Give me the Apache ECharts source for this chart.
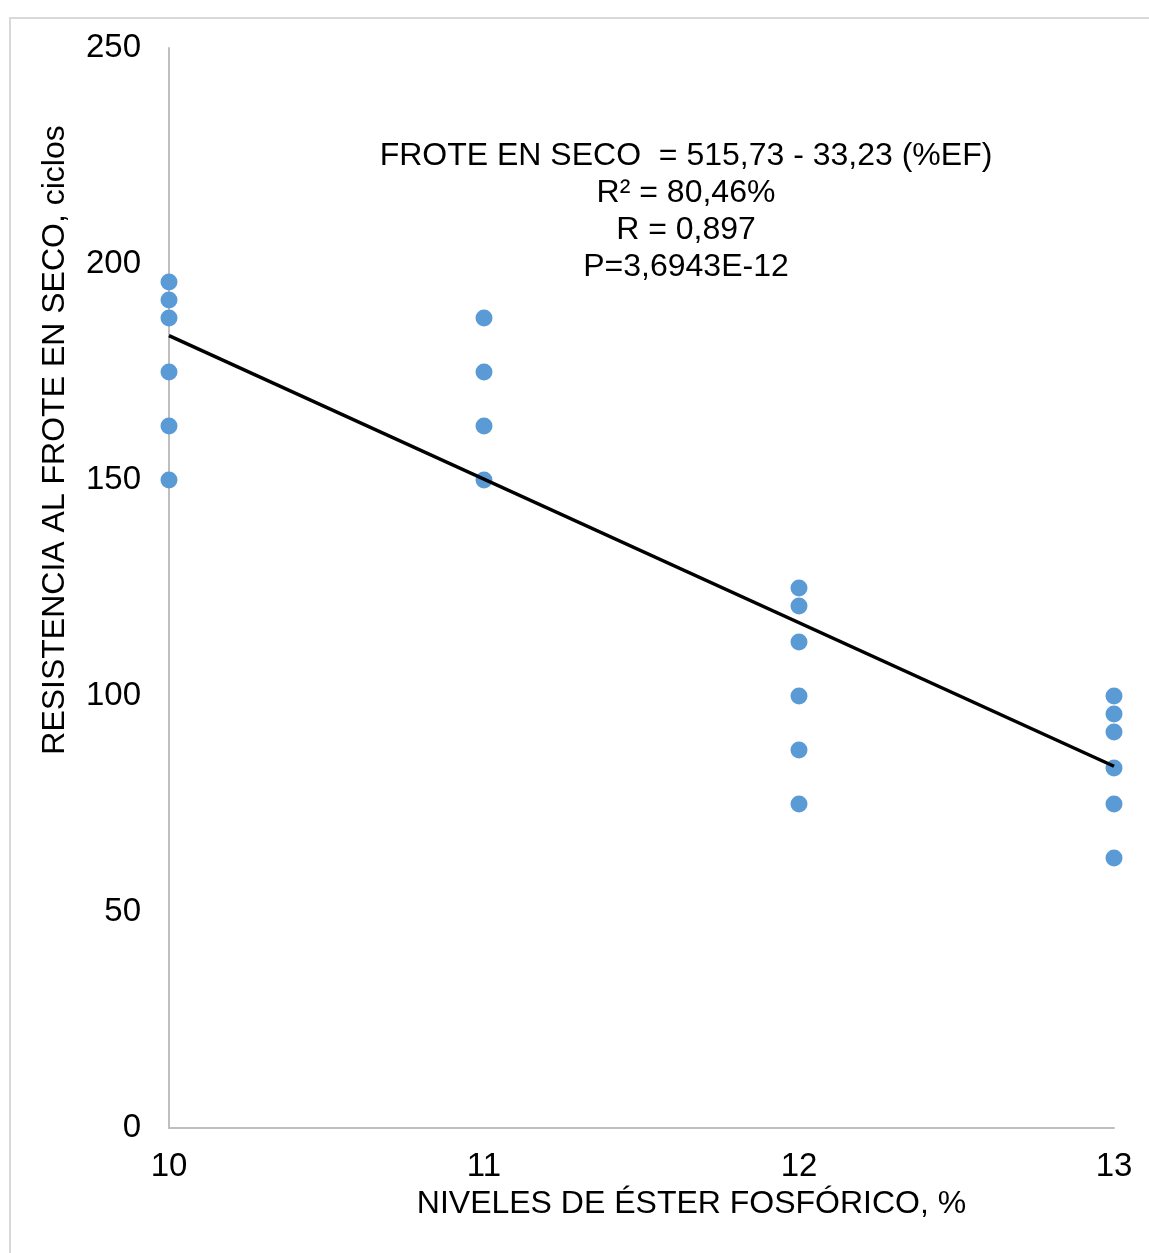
<!DOCTYPE html>
<html>
<head>
<meta charset="utf-8">
<script src="https://cdn.jsdelivr.net/npm/echarts@6/dist/echarts.min.js"></script>
<style>
  html, body { margin: 0; padding: 0; background: #ffffff; }
  #frame { position: absolute; left: 9px; top: 17px; width: 1160px; height: 1260px;
           border: 2px solid #d9d9d9; box-sizing: border-box; }
  #chart { position: absolute; left: 0; top: 0; width: 1149px; height: 1253px; }
</style>
</head>
<body>
<div id="frame"></div>
<div id="chart"></div>
<script>
// Niveles de éster fosfórico (%) y resistencia al frote en seco (ciclos)
const nivelesEF = [10, 10, 10, 10, 10, 10,
                   11, 11, 11, 11,
                   12, 12, 12, 12, 12, 12,
                   13, 13, 13, 13, 13, 13];
const froteSeco = [195.83, 191.67, 187.5, 175, 162.5, 150,
                   187.5, 175, 162.5, 150,
                   125, 120.83, 112.5, 100, 87.5, 75,
                   100, 95.83, 91.67, 83.33, 75, 62.5];

// Recta de regresión: FROTE EN SECO = 515,73 - 33,23 (%EF)
const intercepto = 515.73;
const pendiente = -33.23;
const rangoEF = [10, 13];

const xTicks = [10, 11, 12, 13];
const yTicks = [0, 50, 100, 150, 200, 250];

const anotacion = [
  'FROTE EN SECO  = 515,73 - 33,23 (%EF)',
  'R² = 80,46%',
  'R = 0,897',
  'P=3,6943E-12'
];

const puntos = nivelesEF.map((x, i) => [x, froteSeco[i]]);
const recta = rangoEF.map(x => [x, intercepto + pendiente * x]);

const fuente = '"Liberation Sans", Arial, sans-serif';
const chart = echarts.init(document.getElementById('chart'));

chart.setOption({
  backgroundColor: 'transparent',
  animation: false,
  grid: { left: 169, right: 35, top: 48, bottom: 125 },
  xAxis: {
    type: 'value',
    min: xTicks[0], max: xTicks[xTicks.length - 1], interval: 1,
    name: 'NIVELES DE ÉSTER FOSFÓRICO, %',
    nameLocation: 'middle',
    nameGap: 55,
    nameTextStyle: { fontFamily: fuente, fontSize: 32, color: '#000', padding: [0, 0, 0, 100] },
    axisLine: { show: true, lineStyle: { color: '#bfbfbf', width: 2 } },
    axisTick: { show: false },
    splitLine: { show: false },
    axisLabel: { fontFamily: fuente, fontSize: 33, color: '#000', margin: 22 }
  },
  yAxis: {
    type: 'value',
    min: yTicks[0], max: yTicks[yTicks.length - 1], interval: 50,
    name: 'RESISTENCIA AL FROTE EN SECO, ciclos',
    nameLocation: 'middle',
    nameGap: 98,
    nameRotate: 90,
    nameTextStyle: { fontFamily: fuente, fontSize: 32, color: '#000', padding: [0, 0, 0, 296] },
    axisLine: { show: true, lineStyle: { color: '#bfbfbf', width: 2 } },
    axisTick: { show: false },
    splitLine: { show: false },
    axisLabel: { fontFamily: fuente, fontSize: 33, color: '#000', margin: 28 }
  },
  series: [
    {
      type: 'scatter',
      data: puntos,
      symbol: 'circle',
      symbolSize: 17,
      itemStyle: { color: '#5b9bd5', opacity: 1 },
      z: 2
    },
    {
      type: 'line',
      data: recta,
      symbol: 'none',
      lineStyle: { color: '#000000', width: 3.5 },
      z: 3
    }
  ],
  graphic: [
    {
      type: 'text',
      left: 686 - 340,
      top: 138,
      style: {
        text: anotacion.join('\n'),
        width: 680,
        align: 'center',
        x: 340,
        textAlign: 'center',
        font: '32px ' + fuente,
        lineHeight: 37,
        fill: '#000'
      }
    }
  ]
});
</script>
</body>
</html>
